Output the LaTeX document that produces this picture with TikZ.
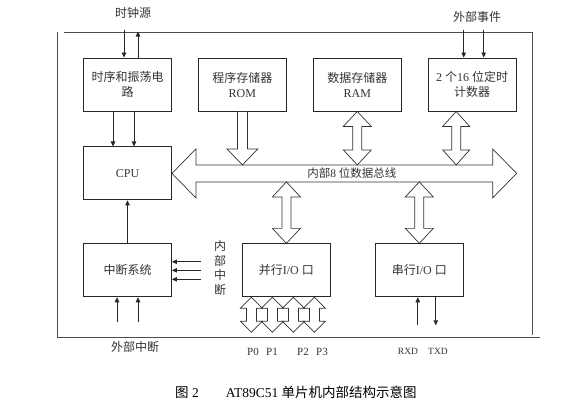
\documentclass[tikz,border=0pt]{standalone}
\usepackage{fontspec}
\setmainfont{Liberation Serif}
\newfontfamily\cjk{Noto Sans CJK SC}
\usetikzlibrary{arrows.meta,positioning,calc}
\newcommand{\zh}[1]{{\cjk #1}}
% hollow double arrow: tip, tip, half shaft, half head, head length
\newcommand{\dblarrow}[5]{%
  \draw[hollow] (#1) -- ++(#4,#5) -- ++(#3-#4,0) -- ($(#2)+(#3,-#5)$)
    -- ++(#4-#3,0) -- (#2) -- ++(-#4,-#5) -- ++(#4-#3,0)
    -- ($(#1)+(-#3,#5)$) -- ++(#3-#4,0) -- cycle;}
\tikzset{
  blk/.style   ={rectangle, draw=black!85, line width=0.9pt,
                 minimum width=88pt, minimum height=53pt,
                 align=center, text=black!80, font=\fontsize{12}{15}\selectfont},
  lbl/.style   ={text=black!80, font=\fontsize{12}{15}\selectfont, inner sep=1pt},
  ar/.style    ={-{Triangle[length=5pt,width=4.5pt]}, draw=black!85, line width=0.8pt},
  hollow/.style={draw=black!80, line width=0.7pt, line join=miter},
  frm/.style   ={draw=black!70, line width=1pt}
}
\begin{document}
\begin{tikzpicture}[x=1pt,y=-1pt,node distance=35pt and 26pt]
\useasboundingbox (0,0) rectangle (573,405);
% outer frame
\draw[frm] (64,32) -- (532,32) -- (532,335);
\draw[frm] (57,32) -- (57,337) -- (540,337);
% blocks
\node[blk] (clk) at (127.5,84.5) {\zh{时序和振荡电}\\\zh{路}};
\node[blk, right=of clk] (rom) {\zh{程序存储器}\\ROM};
\node[blk, right=of rom] (ram) {\zh{数据存储器}\\RAM};
\node[blk, right=of ram] (tmr) {2 \zh{个}16 \zh{位定时}\\\zh{计数器}};
\node[blk, below=of clk] (cpu) {CPU};
\node[blk, below=43pt of cpu] (int) {\zh{中断系统}};
\node[blk, right=70pt of int] (pio) {\zh{并行}I/O \zh{口}};
\node[blk, right=44pt of pio] (sio) {\zh{串行}I/O \zh{口}};
% internal bus
\coordinate (busL) at (cpu.east);
\coordinate (busR) at (cpu.east -| tmr.east);
\coordinate (busT) at ([yshift=8.5pt]cpu.east);
\coordinate (busB) at ([yshift=-8.5pt]cpu.east);
\draw[hollow] (busL) -- ++(24,-24.5) -- ++(0,16) -- ($(busR)+(-24,-8.5)$)
  -- ++(0,-16) -- (busR) -- ++(-24,24.5) -- ++(0,-16)
  -- ($(busL)+(24,8.5)$) -- ++(0,16) -- cycle;
\node[lbl, font=\fontsize{11.5}{13}\selectfont] (buslbl) at ($(busL)!0.522!(busR)$)
  {\zh{内部}8 \zh{位数据总线}};
% ROM -> bus
\draw[hollow] ($(rom.south)+(-5,0)$) -- ($(rom.south)+(5,0)$)
  -- ($(rom.south |- busT)+(5,-16)$) -- ++(10.5,0) -- (rom.south |- busT)
  -- ++(-15.5,-16) -- ++(10.5,0) -- cycle;
% RAM, timer, I/O <-> bus
\dblarrow{ram.south}{ram.south |- busT}{4.5}{14}{15}
\coordinate (tA) at ([xshift=-16pt]tmr.south);
\dblarrow{tA}{tA |- busT}{4.5}{13.5}{15}
\dblarrow{pio.north |- busB}{pio.north}{4.5}{14}{15}
\dblarrow{sio.north |- busB}{sio.north}{4.5}{14}{15}
% ports P0..P3
\foreach \dx in {-35,-14,7,28} {
  \coordinate (pa) at ([xshift=\dx pt]pio.south);
  \coordinate (pb) at ([xshift=\dx pt,yshift=-35pt]pio.south);
  \dblarrow{pa}{pb}{5}{11}{11}
}
% clock
\draw[ar] ([xshift=-3.5pt]clk.north) ++(0,-28) -- ([xshift=-3.5pt]clk.north);
\draw[ar] ([xshift=10.5pt]clk.north) -- ++(0,-26);
\foreach \dx in {-14.5,6.5}
  \draw[ar] ([xshift=\dx pt]clk.south) -- ([xshift=\dx pt]cpu.north);
\node[lbl] (clklbl) at (133,13) {\zh{时钟源}};
% external events
\foreach \dx in {-8.5,11.5}
  \draw[ar] ([xshift=\dx pt]tmr.north) ++(0,-28) -- ([xshift=\dx pt]tmr.north);
\node[lbl] (evtlbl) at (477,17) {\zh{外部事件}};
% interrupts
\draw[ar] (int.north) -- (cpu.south);
\foreach \dx in {-10.5,10.5}
  \draw[ar] ([xshift=\dx pt]int.south) ++(0,25) -- ([xshift=\dx pt]int.south);
\foreach \dy in {8.5,0,-9}
  \draw[ar] ([yshift=\dy pt]int.east) ++(29,0) -- ([yshift=\dy pt]int.east);
\node[lbl, align=center, font=\fontsize{12}{14.7}\selectfont] (inlbl) at (220,268)
  {\zh{内}\\\zh{部}\\\zh{中}\\\zh{断}};
\node[lbl] (extlbl) at (135,347) {\zh{外部中断}};
% serial lines
\draw[ar] ([xshift=-1.5pt]sio.south) ++(0,28) -- ([xshift=-1.5pt]sio.south);
\draw[ar] ([xshift=16.5pt]sio.south) -- ++(0,28);
% pin labels
\node[lbl, font=\fontsize{11}{13}\selectfont] (p0) at (253,352) {P0};
\node[lbl, font=\fontsize{11}{13}\selectfont] (p1) at (272,352) {P1};
\node[lbl, font=\fontsize{11}{13}\selectfont] (p2) at (303,352) {P2};
\node[lbl, font=\fontsize{11}{13}\selectfont] (p3) at (322,352) {P3};
\node[lbl, font=\fontsize{9.5}{11}\selectfont] (rxd) at (408,351) {RXD};
\node[lbl, font=\fontsize{9.5}{11}\selectfont] (txd) at (438,351) {TXD};
% caption
\node[anchor=west, inner sep=0pt, font=\fontsize{13.5}{16}\selectfont] (cap) at (175,392)
  {\zh{图} 2\hspace{27pt}AT89C51 \zh{单片机内部结构示意图}};
\end{tikzpicture}
\end{document}
